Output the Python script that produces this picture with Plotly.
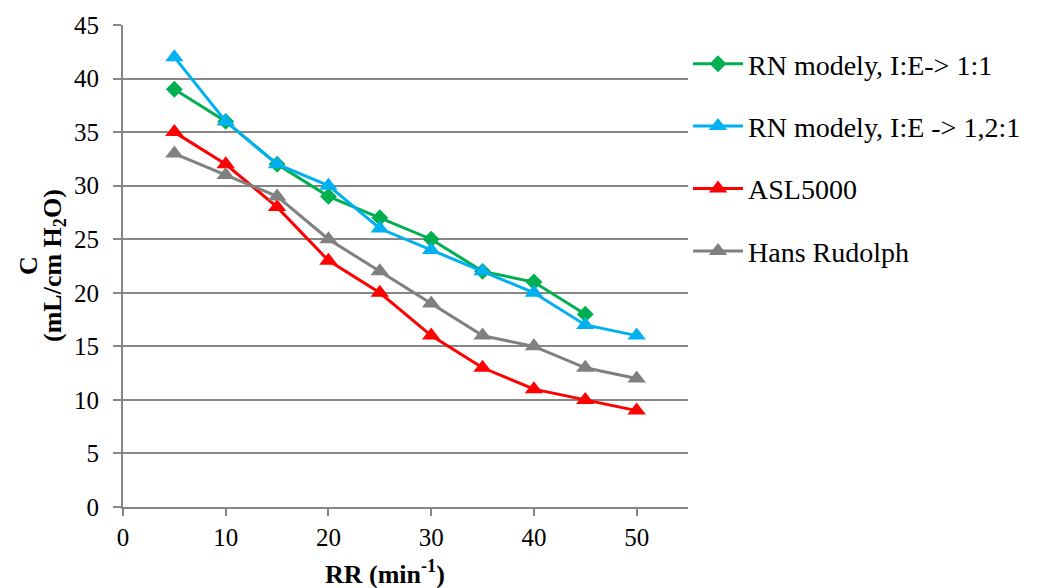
import plotly.graph_objects as go

rr = [5, 10, 15, 20, 25, 30, 35, 40, 45, 50]
rn_11 = [39, 36, 32, 29, 27, 25, 22, 21, 18]
rn_121 = [42, 36, 32, 30, 26, 24, 22, 20, 17, 16]
asl = [35, 32, 28, 23, 20, 16, 13, 11, 10, 9]
hans = [33, 31, 29, 25, 22, 19, 16, 15, 13, 12]

names = ["RN modely, I:E-> 1:1", "RN modely, I:E -> 1,2:1", "ASL5000", "Hans Rudolph"]
colors = ["#00B050", "#00B0F0", "#FF0000", "#808080"]
symbols = ["diamond", "triangle-up", "triangle-up", "triangle-up"]
sizes = [13, 16, 16, 16]
series = [rn_11, rn_121, asl, hans]

fig = go.Figure()
for i, (nm, c, s, sz, ys) in enumerate(zip(names, colors, symbols, sizes, series)):
    fig.add_trace(go.Scatter(
        x=rr[:len(ys)], y=ys, name=nm, mode="lines+markers",
        line=dict(color=c, width=3),
        marker=dict(color=c, symbol=s, size=sz),
        legendgroup=f"g{i}",
    ))

FAM = "Liberation Serif"
tickfont = dict(family=FAM, size=25, color="#000000")
legfont = dict(family=FAM, size=28, color="#000000")
titlefont = dict(family=FAM, size=26, color="#000000")
grid = "#868686"

fig.update_layout(
    width=1041, height=588,
    margin=dict(l=123, r=353, t=25, b=81),
    paper_bgcolor="white", plot_bgcolor="white",
    font=tickfont,
    showlegend=True,
    legend=dict(x=1.0, y=0.971, xanchor="left", yanchor="top",
                font=legfont, tracegroupgap=23, itemwidth=50,
                bgcolor="rgba(0,0,0,0)"),
    xaxis=dict(range=[0, 55], tickvals=[0, 10, 20, 30, 40, 50],
               showgrid=False, zeroline=False, showline=True, linecolor=grid,
               linewidth=2, ticks="outside", ticklen=7, tickcolor=grid, tickwidth=2,
               tickfont=tickfont),
    yaxis=dict(range=[0, 45], dtick=5, showgrid=True, gridcolor=grid, gridwidth=2,
               zeroline=False, showline=True, linecolor=grid, linewidth=2,
               ticks="outside", ticklen=8, tickcolor=grid, tickwidth=2,
               ticklabelstandoff=9, tickfont=tickfont),
    annotations=[
        dict(text="<b>RR (min<sup>-1</sup>)</b>", xref="paper", yref="paper",
             x=(385 - 123) / 565, y=(507 - 572) / 482, xanchor="center", yanchor="middle",
             showarrow=False, font=titlefont),
        dict(text="<b>C</b>", xref="paper", yref="paper",
             x=(28 - 123) / 565, y=0.5, xanchor="center", yanchor="middle", textangle=-90,
             showarrow=False, font=titlefont),
        dict(text="<b>(mL/cm H<sub>2</sub>O)</b>", xref="paper", yref="paper",
             x=(54 - 123) / 565, y=0.5, xanchor="center", yanchor="middle", textangle=-90,
             showarrow=False, font=titlefont),
    ],
)

fig.write_html("out.html")
